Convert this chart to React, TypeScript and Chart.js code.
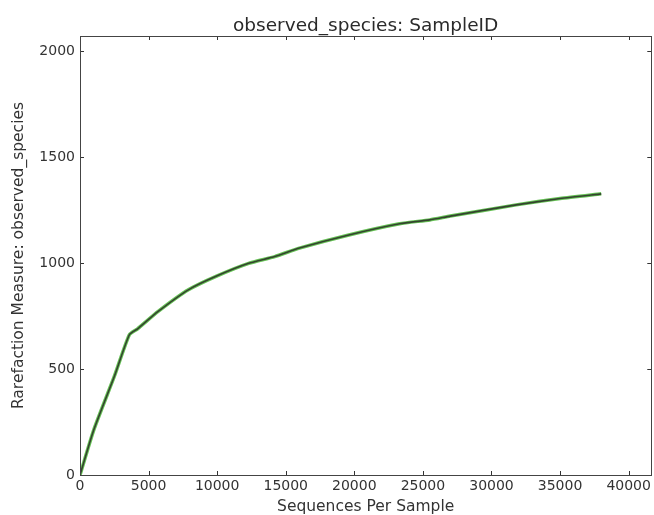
import React, { useEffect, useRef } from "react";
import { Chart, registerables } from "chart.js";

Chart.register(...registerables);

const chartTitle = "observed_species: SampleID";
const seqPerSample = [0, 1000, 2500, 3600, 4200, 5700, 7900, 10000, 12300, 14200, 16000, 19600, 23300, 25500, 27000, 31800, 35000, 38000];
const observedSpecies = [0, 212, 465, 662, 690, 772, 874, 940, 999, 1031, 1071, 1133, 1186, 1204, 1222, 1275, 1305, 1327];
const xTicks = [0, 5000, 10000, 15000, 20000, 25000, 30000, 35000, 40000];
const yTicks = [0, 500, 1000, 1500, 2000];

const FONT = "'DejaVu Sans', sans-serif";

const boxPlugin = {
  id: "mplBox",
  afterDraw(chart: any) {
    const { ctx, chartArea } = chart;
    const { left, right, top, bottom } = chartArea;
    const xs = chart.scales.x;
    const ys = chart.scales.y;
    ctx.save();
    ctx.strokeStyle = "#333";
    ctx.lineWidth = 1;
    ctx.beginPath();
    for (const v of xTicks) {
      const px = Math.round(xs.getPixelForValue(v)) + 0.5;
      ctx.moveTo(px, bottom);
      ctx.lineTo(px, bottom - 4);
      ctx.moveTo(px, top);
      ctx.lineTo(px, top + 4);
    }
    for (const v of yTicks) {
      const py = Math.round(ys.getPixelForValue(v)) + 0.5;
      ctx.moveTo(left, py);
      ctx.lineTo(left + 4, py);
      ctx.moveTo(right, py);
      ctx.lineTo(right - 4, py);
    }
    ctx.stroke();
    ctx.strokeStyle = "#444";
    ctx.strokeRect(Math.round(left) + 0.5, Math.round(top) + 0.5, Math.round(right - left), Math.round(bottom - top));
    // title centred over the plot area (matplotlib style)
    ctx.fillStyle = "#2a2a2a";
    ctx.font = `18.5px ${FONT}`;
    ctx.textAlign = "center";
    ctx.textBaseline = "alphabetic";
    ctx.fillText(chartTitle, (left + right) / 2, top - 5);
    ctx.restore();
  },
};

export default function App() {
  const ref = useRef<HTMLCanvasElement | null>(null);
  useEffect(() => {
    if (!ref.current) return;
    const pts = seqPerSample.map((x, i) => ({ x, y: observedSpecies[i] }));
    const chart = new Chart(ref.current, {
      type: "line",
      data: {
        datasets: [
          {
            data: pts,
            borderColor: "#34432f",
            borderWidth: 1.6,
            pointRadius: 0,
            tension: 0.2,
            fill: false,
          },
          {
            data: pts,
            borderColor: "#66c255",
            borderWidth: 3.5,
            pointRadius: 0,
            tension: 0.2,
            fill: false,
          },
        ],
      },
      options: {
        animation: false,
        responsive: false,
        maintainAspectRatio: false,
        layout: { padding: { left: 0, right: 2, top: 36, bottom: 0 } },
        plugins: {
          legend: { display: false },
          tooltip: { enabled: false },
          title: { display: false },
        },
        scales: {
          x: {
            type: "linear",
            min: 0,
            max: 41650,
            grid: { display: false, drawTicks: false },
            border: { display: false },
            afterBuildTicks: (s: any) => {
              s.ticks = xTicks.map((v) => ({ value: v }));
            },
            ticks: {
              maxRotation: 0,
              autoSkip: false,
              color: "#333",
              padding: 3,
              font: { family: FONT, size: 14 },
              callback: (v: any) => String(v),
            },
            title: {
              display: true,
              text: "Sequences Per Sample",
              color: "#333",
              font: { family: FONT, size: 15.5, lineHeight: 1 },
              padding: { top: 0, bottom: 0 },
            },
            afterFit: (s: any) => {
              s.height = 40;
            },
          },
          y: {
            type: "linear",
            min: 0,
            max: 2072,
            grid: { display: false, drawTicks: false },
            border: { display: false },
            afterBuildTicks: (s: any) => {
              s.ticks = yTicks.map((v) => ({ value: v }));
            },
            ticks: {
              autoSkip: false,
              color: "#333",
              padding: 5,
              font: { family: FONT, size: 14 },
              callback: (v: any) => String(v),
            },
            title: {
              display: true,
              text: "Rarefaction Measure: observed_species",
              color: "#333",
              font: { family: FONT, size: 15.5, lineHeight: 1 },
              padding: { top: 11, bottom: 0 },
            },
            afterFit: (s: any) => {
              s.width = 80;
            },
          },
        },
      },
      plugins: [boxPlugin],
    });
    return () => chart.destroy();
  }, []);
  return (
    <div style={{ position: "fixed", left: 0, top: 0, width: 654, height: 515, background: "#fff" }}>
      <canvas ref={ref} width={654} height={515} style={{ display: "block" }} />
    </div>
  );
}
